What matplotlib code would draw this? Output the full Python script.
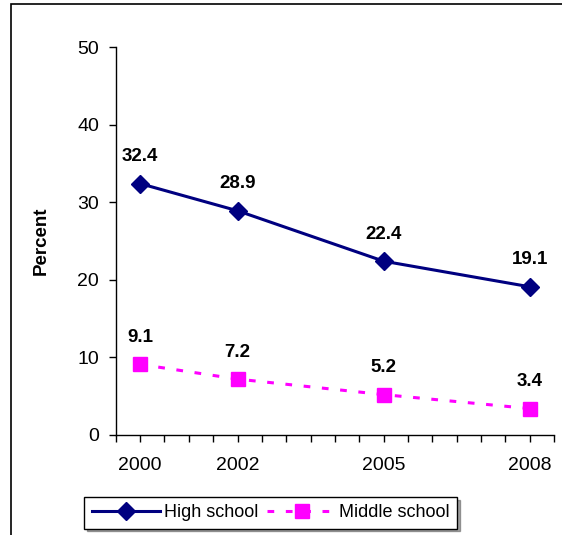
import matplotlib.pyplot as plt
from matplotlib.patches import Rectangle
from matplotlib.ticker import MultipleLocator

plt.rcParams['font.family'] = ['Liberation Sans', 'DejaVu Sans']

years = [2000, 2002, 2005, 2008]
high_school = [32.4, 28.9, 22.4, 19.1]
middle_school = [9.1, 7.2, 5.2, 3.4]
year_labels = ['2000', '2002', '2005', '2008']

fig = plt.figure(figsize=(5.62, 5.35), dpi=100)
ax = fig.add_axes([0.206, 0.187, 0.780, 0.725])

# outer frame (only left and top edges fall inside the image)
fig.patches.append(Rectangle((0.019, -0.05), 1.1, 0.043 + 1.0, transform=fig.transFigure,
                             fill=False, edgecolor='black', linewidth=1.2))

ax.plot(years, high_school, color='#000080', linewidth=2.2, marker='D', markersize=9,
        label='High school')
ax.plot(years, middle_school, color='#FF00FF', linewidth=2.2, dashes=(2.2, 3.8),
        marker='s', markersize=10.5, label='Middle school')

for x, y in zip(years, high_school):
    ax.annotate(f'{y}', (x, y), xytext=(0, 19.5), textcoords='offset points',
                ha='center', va='center', fontsize=13.5, fontweight='bold')
for x, y in zip(years, middle_school):
    ax.annotate(f'{y}', (x, y), xytext=(0, 19.5), textcoords='offset points',
                ha='center', va='center', fontsize=13.5, fontweight='bold')

ax.set_xlim(1999.5, 2008.5)
ax.set_ylim(0, 50)
ax.set_xticks(years)
ax.set_xticklabels(year_labels)
ax.xaxis.set_minor_locator(MultipleLocator(0.5))
ax.set_yticks(range(0, 51, 10))
ax.tick_params(axis='both', labelsize=14, direction='out', length=5, width=1, pad=7)
ax.tick_params(axis='x', which='minor', direction='out', length=5, width=1)
ax.tick_params(axis='x', pad=11)

for side in ['top', 'right']:
    ax.spines[side].set_visible(False)
ax.spines['left'].set_linewidth(1)
ax.spines['bottom'].set_linewidth(1)

ax.set_ylabel('Percent', fontsize=13.5, fontweight='bold', labelpad=20)

leg = fig.legend(loc='center', bbox_to_anchor=(0.482, 0.0415), ncol=2, fontsize=13,
                 frameon=True, fancybox=False, shadow=True, edgecolor='black',
                 handlelength=3.8, columnspacing=0.5, handletextpad=0.2,
                 borderpad=0.4, borderaxespad=0)
leg.get_frame().set_linewidth(1)

fig.savefig('out.png', dpi=100)
